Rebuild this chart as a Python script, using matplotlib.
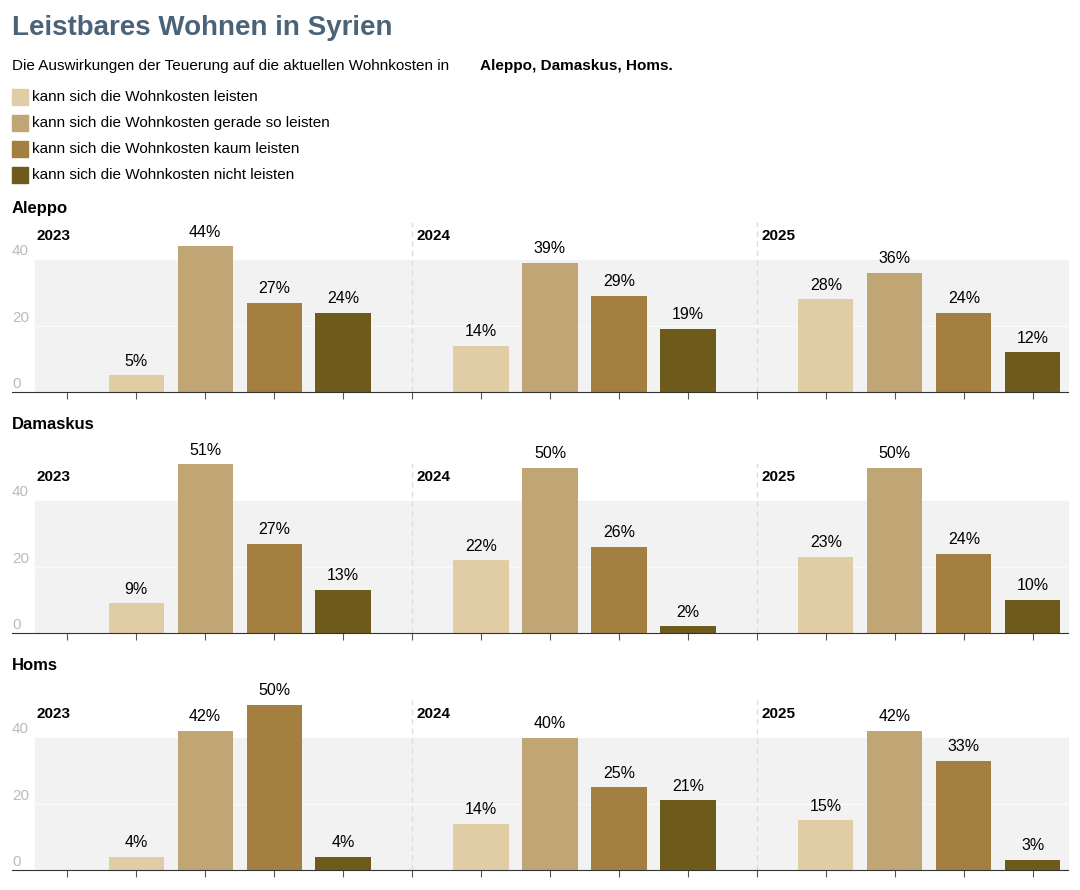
import matplotlib.pyplot as plt
from matplotlib.patches import Rectangle

plt.rcParams['font.family'] = ['Liberation Sans', 'DejaVu Sans']

cities = ['Aleppo', 'Damaskus', 'Homs']
years = ['2023', '2024', '2025']
categories = ['kann sich die Wohnkosten leisten',
              'kann sich die Wohnkosten gerade so leisten',
              'kann sich die Wohnkosten kaum leisten',
              'kann sich die Wohnkosten nicht leisten']
colors = ['#e0cda6', '#bfa674', '#a38040', '#6e5a1a']

# values per city, per year, per category (%)
aleppo = [[5, 44, 27, 24], [14, 39, 29, 19], [28, 36, 24, 12]]
damaskus = [[9, 51, 27, 13], [22, 50, 26, 2], [23, 50, 24, 10]]
homs = [[4, 42, 50, 4], [14, 40, 25, 21], [15, 42, 33, 3]]
values = [aleppo, damaskus, homs]

fig = plt.figure(figsize=(10.8, 8.9), dpi=100)

fig.text(12/1080, 1 - 28/890, 'Leistbares Wohnen in Syrien', fontsize=20, fontweight='bold',
         color='#4a6378', va='center')
fig.text(12/1080, 1 - 66/890, 'Die Auswirkungen der Teuerung auf die aktuellen Wohnkosten in ',
         fontsize=11, va='center')
fig.text(480/1080, 1 - 66/890, 'Aleppo, Damaskus, Homs.', fontsize=11, fontweight='bold', va='center')

for i, (cat, col) in enumerate(zip(categories, colors)):
    yc = 97 + i * 26
    fig.patches.append(Rectangle((12/1080, 1 - (yc + 8)/890), 16/1080, 16/890,
                                 transform=fig.transFigure, color=col))
    fig.text(32/1080, 1 - yc/890, cat, fontsize=11, va='center')

zero_px = [392, 633, 870]
title_px = [208, 425, 666]
ppu = 3.31
for c, city in enumerate(cities):
    height = 51.5
    ax = fig.add_axes([12/1080, (890 - zero_px[c])/890, 1056/1080, height * ppu/890])
    ax.set_xlim(-0.8, 14.51)
    ax.set_ylim(0, height)
    ax.fill_between([-0.47, 14.51], 0, 40, color='#f2f2f2', zorder=0)
    ax.plot([-0.47, 14.51], [20, 20], color='#fafafa', lw=1, zorder=0.5)
    for s in ['top', 'right', 'left']:
        ax.spines[s].set_visible(False)
    ax.spines['bottom'].set_color('#333333')
    ax.set_yticks([])
    ax.set_xticks(range(15))
    ax.set_xticklabels([])
    ax.tick_params(axis='x', length=5, color='#555555')
    for v in [0, 20, 40]:
        ax.text(-0.8, v + 2.5, str(v), color='#bbbbbb', fontsize=11, va='center', ha='left')
    for d in [5, 10]:
        ax.plot([d, d], [0, height], color='#dddddd', lw=1, ls=(0, (4, 3)), zorder=0.6)
    for y, year in enumerate(years):
        xs = [y * 5 + 1 + k for k in range(4)]
        vals = values[c][y]
        ax.bar(xs, vals, width=0.8, color=colors, zorder=2)
        for x, v in zip(xs, vals):
            ax.text(x, v + 2, f'{v}%', ha='center', va='bottom', fontsize=11.5)
        yx = -0.45 if y == 0 else y * 5 + 0.07
        ax.text(yx, 47, year, fontweight='bold', fontsize=11, va='center', ha='left')
    fig.text(12/1080, 1 - title_px[c]/890, city, fontweight='bold', fontsize=12, va='center')

fig.savefig('out.png', dpi=100)
